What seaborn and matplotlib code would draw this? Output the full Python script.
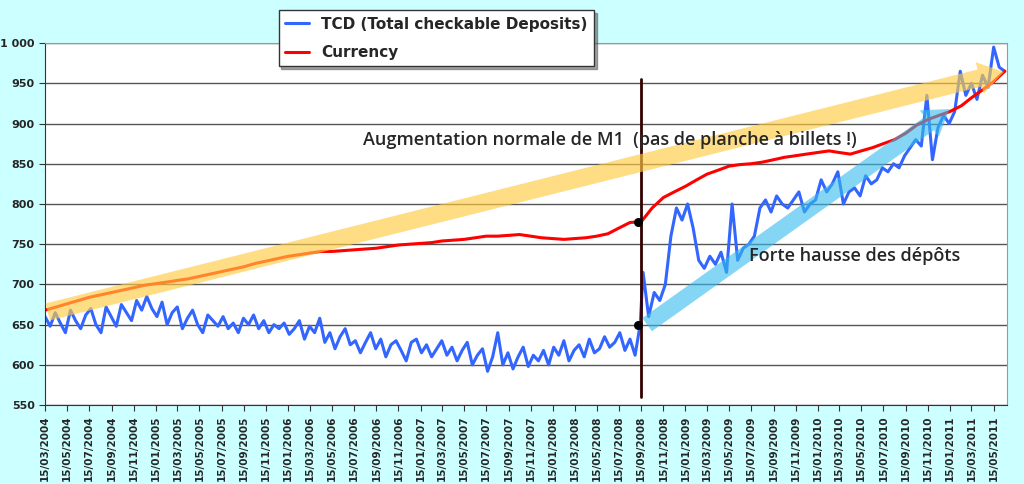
import numpy as np
import pandas as pd
import matplotlib
matplotlib.use("Agg")
import matplotlib.pyplot as plt
import matplotlib.dates as mdates
import seaborn as sns

# TCD, before the Sept 2008 jump (roughly bi-weekly)
tcd_before = [660, 648, 665, 652, 640, 668, 655, 645, 662, 670, 650, 640, 672, 660, 648, 675, 665, 655, 680, 668, 685,
              670, 660, 678, 650, 665, 672, 645, 658, 668, 650, 640, 662, 655, 648, 660, 645, 652, 640, 658, 650, 662,
              645, 655, 640, 650, 645,
              652, 638, 645, 655, 632, 648, 640, 658, 628, 640, 620, 635, 645, 625, 630, 615, 628, 640, 620, 632, 610,
              625, 630, 618, 605, 628,
              632, 615, 625, 610, 620, 630, 612, 622, 605, 618, 628, 600, 612, 620, 592, 610, 640, 600, 615, 595, 610,
              622, 598, 612, 605, 618,
              600, 622, 612, 630, 605, 618, 625, 610, 632, 615, 620, 635, 622, 628, 640, 618, 632, 612, 650]
# TCD after the jump
tcd_after = [715, 660, 690, 680, 700, 760, 795, 780, 800, 770, 730, 720, 735, 725, 740, 715, 800, 730, 745, 750, 760,
             795, 805, 790, 810, 800, 795, 805, 815, 790, 800, 805, 830, 815, 825, 840, 800, 815, 820, 810, 835, 825,
             830, 845, 840, 850, 845, 860, 870, 880, 872, 935, 855, 895, 910, 900, 915, 965, 935, 950, 930, 960, 945,
             995, 970, 965]
currency = [668, 672, 676, 680, 684, 687, 690, 693, 696, 699,
            701, 703, 705, 707, 710, 713, 716, 719, 722, 726, 729, 732,
            735, 737, 739, 741, 741, 742, 743, 744, 745, 747, 749, 750,
            751, 752, 754, 755, 756, 758, 760, 760, 761, 762, 760, 758,
            757, 756, 757, 758, 760, 763, 770, 777, 778, 795, 808, 815,
            822, 830, 837, 842, 847, 849, 850, 852, 855, 858, 860, 862,
            864, 866, 864, 862, 866, 870, 875, 880, 888, 898, 905, 910,
            915, 922, 932, 942, 952, 965]

d_before = pd.date_range("2004-03-15", "2008-09-12", periods=len(tcd_before))
d_after = pd.date_range("2008-09-20", "2011-06-15", periods=len(tcd_after))
tcd = pd.DataFrame({"date": list(d_before) + list(d_after), "value": tcd_before + tcd_after})
cur = pd.DataFrame({"date": pd.date_range("2004-03-01", periods=len(currency), freq="MS") + pd.Timedelta(days=14),
                    "value": currency})
tick_dates = pd.date_range("2004-03-01", "2011-05-01", freq="2MS") + pd.Timedelta(days=14)

sns.set_style("white")
bg = "#CCFFFF"
fig = plt.figure(figsize=(10.24, 4.84), dpi=100, facecolor=bg)
ax = fig.add_axes([0.044, 0.163, 0.939, 0.748])
ax.set_facecolor("white")

sns.lineplot(data=tcd, x="date", y="value", ax=ax, color="#3366FF", lw=2.2, label="TCD (Total checkable Deposits)")
sns.lineplot(data=cur, x="date", y="value", ax=ax, color="#FF0000", lw=2.2, label="Currency")

d0 = pd.Timestamp("2004-03-15")
d1 = pd.Timestamp("2011-06-20")
ax.set_xlim(d0, d1)
ax.set_ylim(550, 1000)
ax.set_yticks(range(550, 1001, 50))
ax.set_yticklabels([f"{v}" if v < 1000 else "1 000" for v in range(550, 1001, 50)],
                   fontsize=8, fontweight="bold")
ax.grid(axis="y", color="#555555", lw=1)
ax.set_xticks(tick_dates)
ax.xaxis.set_major_formatter(mdates.DateFormatter("%d/%m/%Y"))
plt.setp(ax.get_xticklabels(), rotation=90, fontsize=7.5, fontweight="bold")
ax.tick_params(axis="both", length=4, direction="out", color="#333333", bottom=True, left=True)
ax.set_xlabel("")
ax.set_ylabel("")
for s in ["top", "right"]:
    ax.spines[s].set_color("#999999")
for s in ["left", "bottom"]:
    ax.spines[s].set_color("#333333")

# trend arrows
jump = pd.Timestamp("2008-09-15")
ax.annotate("", xy=(d1, 965), xytext=(d0, 665),
            arrowprops=dict(arrowstyle="simple,head_width=1.3,head_length=1.0,tail_width=0.7",
                            color="#FFCC44", alpha=0.65, lw=0, mutation_scale=18))
ax.annotate("", xy=(pd.Timestamp("2011-01-20"), 920), xytext=(pd.Timestamp("2008-09-25"), 648),
            arrowprops=dict(arrowstyle="simple,head_width=1.3,head_length=1.0,tail_width=0.65",
                            color="#33BBEE", alpha=0.6, lw=0, mutation_scale=18))
ax.plot([jump, jump], [560, 955], color="#330000", lw=2)
ax.scatter([jump - pd.Timedelta(days=10)] * 2, [778, 650], color="black", s=30, zorder=5)

ax.text(pd.Timestamp("2006-08-10"), 880, "Augmentation normale de M1  (pas de planche à billets !)",
        fontsize=13, fontweight="semibold", family="Open Sans", va="center")
ax.text(pd.Timestamp("2009-07-10"), 735, "Forte hausse des dépôts",
        fontsize=13, fontweight="semibold", family="Open Sans", va="center")

leg = ax.legend(loc="upper left", bbox_to_anchor=(0.243, 1.09), frameon=True, shadow=True, fancybox=False,
                prop=dict(weight="bold", size=11), handlelength=1.6, labelspacing=0.9, borderaxespad=0)
leg.get_frame().set_edgecolor("#333333")

fig.savefig("out.png", dpi=100, facecolor=bg)
